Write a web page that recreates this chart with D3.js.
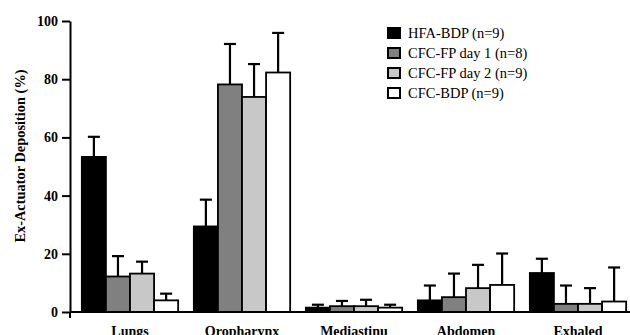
<!DOCTYPE html>
<html>
<head>
<meta charset="utf-8">
<script src="https://cdn.jsdelivr.net/npm/d3@7"></script>
<style>
  body { margin: 0; background: #fff; }
  svg { display: block; font-family: "Liberation Serif", "DejaVu Serif", serif; }
</style>
</head>
<body>
<svg width="630" height="335"></svg>
<script>
// data
const sites = ["Lungs", "Oropharynx", "Mediastinu", "Abdomen", "Exhaled"];
const groups = ["HFA-BDP (n=9)", "CFC-FP day 1 (n=8)", "CFC-FP day 2 (n=9)", "CFC-BDP (n=9)"];
const hfaBdp    = [53.3, 29.4, 1.5, 4.0, 13.4];
const cfcFpDay1 = [12.2, 78.2, 2.0, 5.1, 2.8];
const cfcFpDay2 = [13.2, 73.9, 2.0, 8.2, 2.8];
const cfcBdp    = [4.0, 82.3, 1.5, 9.3, 3.6];
const hfaBdpErr    = [60.2, 38.6, 2.5, 9.1, 18.3];   // top of error bar
const cfcFpDay1Err = [19.2, 92.1, 3.8, 13.2, 9.1];
const cfcFpDay2Err = [17.3, 85.2, 4.2, 16.2, 8.2];
const cfcBdpErr    = [6.3, 95.9, 2.5, 20.1, 15.3];
const yTicks = [0, 20, 40, 60, 80, 100];

const fills = ["#000000", "#808080", "#c8c8c8", "#ffffff"];
const values = [hfaBdp, cfcFpDay1, cfcFpDay2, cfcBdp];
const errs = [hfaBdpErr, cfcFpDay1Err, cfcFpDay2Err, cfcBdpErr];

const svg = d3.select("svg");

const y = d3.scaleLinear().domain([0, 100]).range([312, 21]);
const x0 = d3.scaleBand().domain(sites).range([74, 634]).paddingInner(0.14).paddingOuter(0.07);
const x1 = d3.scaleBand().domain(d3.range(groups.length)).range([0, x0.bandwidth()]);

// bars
const rows = [];
sites.forEach(function (s, i) {
  groups.forEach(function (g, j) {
    rows.push({ site: s, k: j, v: values[j][i], e: errs[j][i] });
  });
});

const bar = svg.append("g").selectAll("g")
  .data(rows)
  .join("g")
  .attr("transform", function (d) { return "translate(" + (x0(d.site) + x1(d.k)) + ",0)"; });

// error bars (upper only)
bar.append("line")
  .attr("x1", x1.bandwidth() / 2)
  .attr("x2", x1.bandwidth() / 2)
  .attr("y1", function (d) { return y(d.v); })
  .attr("y2", function (d) { return y(d.e); })
  .attr("stroke", "#000")
  .attr("stroke-width", 2.2);
bar.append("line")
  .attr("x1", x1.bandwidth() / 2 - 6)
  .attr("x2", x1.bandwidth() / 2 + 6)
  .attr("y1", function (d) { return y(d.e); })
  .attr("y2", function (d) { return y(d.e); })
  .attr("stroke", "#000")
  .attr("stroke-width", 2.2);

bar.append("rect")
  .attr("x", 0)
  .attr("width", x1.bandwidth())
  .attr("y", function (d) { return y(d.v); })
  .attr("height", function (d) { return y(0) - y(d.v); })
  .attr("fill", function (d) { return fills[d.k]; })
  .attr("stroke", "#000")
  .attr("stroke-width", 1.8);

// y axis
const yAxis = svg.append("g")
  .attr("transform", "translate(70,0)")
  .call(d3.axisLeft(y).tickValues(yTicks).tickSize(8).tickSizeOuter(0).tickPadding(4));
yAxis.selectAll("line, path").attr("stroke", "#000").attr("stroke-width", 2);
yAxis.selectAll("text")
  .attr("fill", "#000")
  .style("font-family", "'Liberation Serif', serif")
  .style("font-size", "14px")
  .style("font-weight", "bold");

// x axis
svg.append("line")
  .attr("x1", 70).attr("x2", 630)
  .attr("y1", y(0)).attr("y2", y(0))
  .attr("stroke", "#000").attr("stroke-width", 2);
svg.append("line")
  .attr("x1", 70).attr("x2", 70)
  .attr("y1", y(0)).attr("y2", y(0) + 6)
  .attr("stroke", "#000").attr("stroke-width", 2);

const xAxis = svg.append("g")
  .attr("transform", "translate(0," + y(0) + ")")
  .call(d3.axisBottom(x0).tickSize(0).tickPadding(14));
xAxis.select(".domain").remove();
xAxis.selectAll("text")
  .attr("fill", "#000")
  .style("font-family", "'Liberation Serif', serif")
  .style("font-size", "14px")
  .style("font-weight", "bold");

// y label
svg.append("text")
  .attr("transform", "translate(20,156) rotate(-90)")
  .attr("text-anchor", "middle")
  .attr("dy", "0.35em")
  .style("font-size", "14.4px")
  .style("font-weight", "bold")
  .text("Ex-Actuator Deposition (%)");

// legend
const legend = svg.append("g").attr("transform", "translate(388,28)")
  .selectAll("g")
  .data(groups)
  .join("g")
  .attr("transform", function (d, i) { return "translate(0," + (i * 20) + ")"; });
legend.append("rect")
  .attr("width", 12).attr("height", 10)
  .attr("fill", function (d, i) { return fills[i]; })
  .attr("stroke", "#000").attr("stroke-width", 2);
legend.append("text")
  .attr("x", 20).attr("y", 5).attr("dy", "0.35em")
  .style("font-size", "14.5px")
  .text(function (d) { return d; });
</script>
</body>
</html>
